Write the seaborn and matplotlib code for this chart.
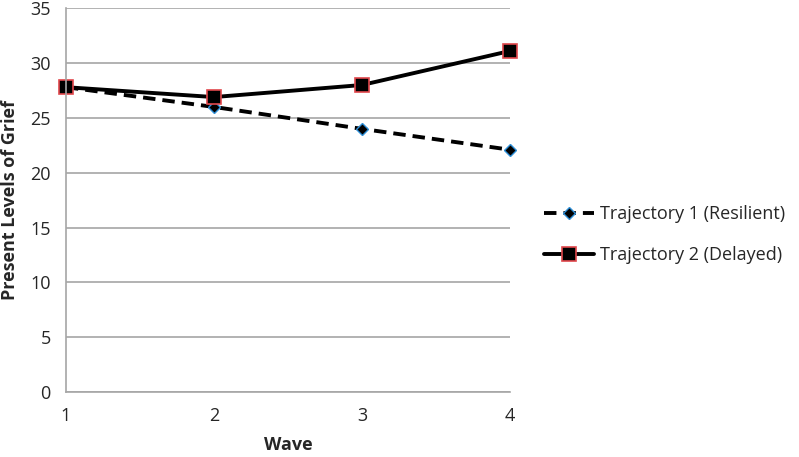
import pandas as pd
import seaborn as sns
import matplotlib.pyplot as plt

# data
waves = [1, 2, 3, 4]
resilient = [27.8, 26.0, 24.0, 22.1]
delayed = [27.8, 26.9, 28.0, 31.1]
series_names = ['Trajectory 1 (Resilient)', 'Trajectory 2 (Delayed)']
y_ticks = [0, 5, 10, 15, 20, 25, 30, 35]

df = pd.DataFrame({
    'Wave': waves * 2,
    'Grief': resilient + delayed,
    'series': [series_names[0]] * 4 + [series_names[1]] * 4,
})

sns.set_style('white')
plt.rcParams['font.family'] = ['Open Sans', 'DejaVu Sans']

fig = plt.figure(figsize=(7.99, 4.57), dpi=100)
ax = fig.add_axes([0.0826, 0.142, 0.5556, 0.840])

styles = {
    series_names[0]: dict(linestyle=(0, (3.2, 1.8)), marker='D', markersize=6,
                          markerfacecolor='black', markeredgecolor='#2e8fd8', markeredgewidth=1.0),
    series_names[1]: dict(linestyle='-', marker='s', markersize=9.5,
                          markerfacecolor='black', markeredgecolor='#e0474c', markeredgewidth=1.2),
}
for name in series_names:
    sub = df[df['series'] == name]
    sns.lineplot(data=sub, x='Wave', y='Grief', ax=ax, color='black', linewidth=2.8,
                 label=name, clip_on=False, **styles[name])

ax.set_xlim(1, 4)
ax.set_ylim(0, 35)
ax.set_xticks(waves)
ax.set_yticks(y_ticks)
ax.yaxis.grid(True, color='#a6a6a6', linewidth=1.2)
ax.set_axisbelow(True)
for s in ['top', 'right']:
    ax.spines[s].set_visible(False)
for s in ['left', 'bottom']:
    ax.spines[s].set_color('#a6a6a6')
    ax.spines[s].set_linewidth(1.2)
ax.tick_params(axis='both', length=5, color='#a6a6a6', width=1.2, labelsize=13, pad=6)
ax.set_xlabel('Wave', fontsize=13, fontweight='bold', labelpad=8)
ax.set_ylabel('Present Levels of Grief', fontsize=13, fontweight='bold', labelpad=8)

leg = ax.legend(loc='center left', bbox_to_anchor=(1.04, 0.41), frameon=False,
                fontsize=13, handlelength=2.8, labelspacing=1.3, handletextpad=0.3)

fig.savefig('out.png', dpi=100)
